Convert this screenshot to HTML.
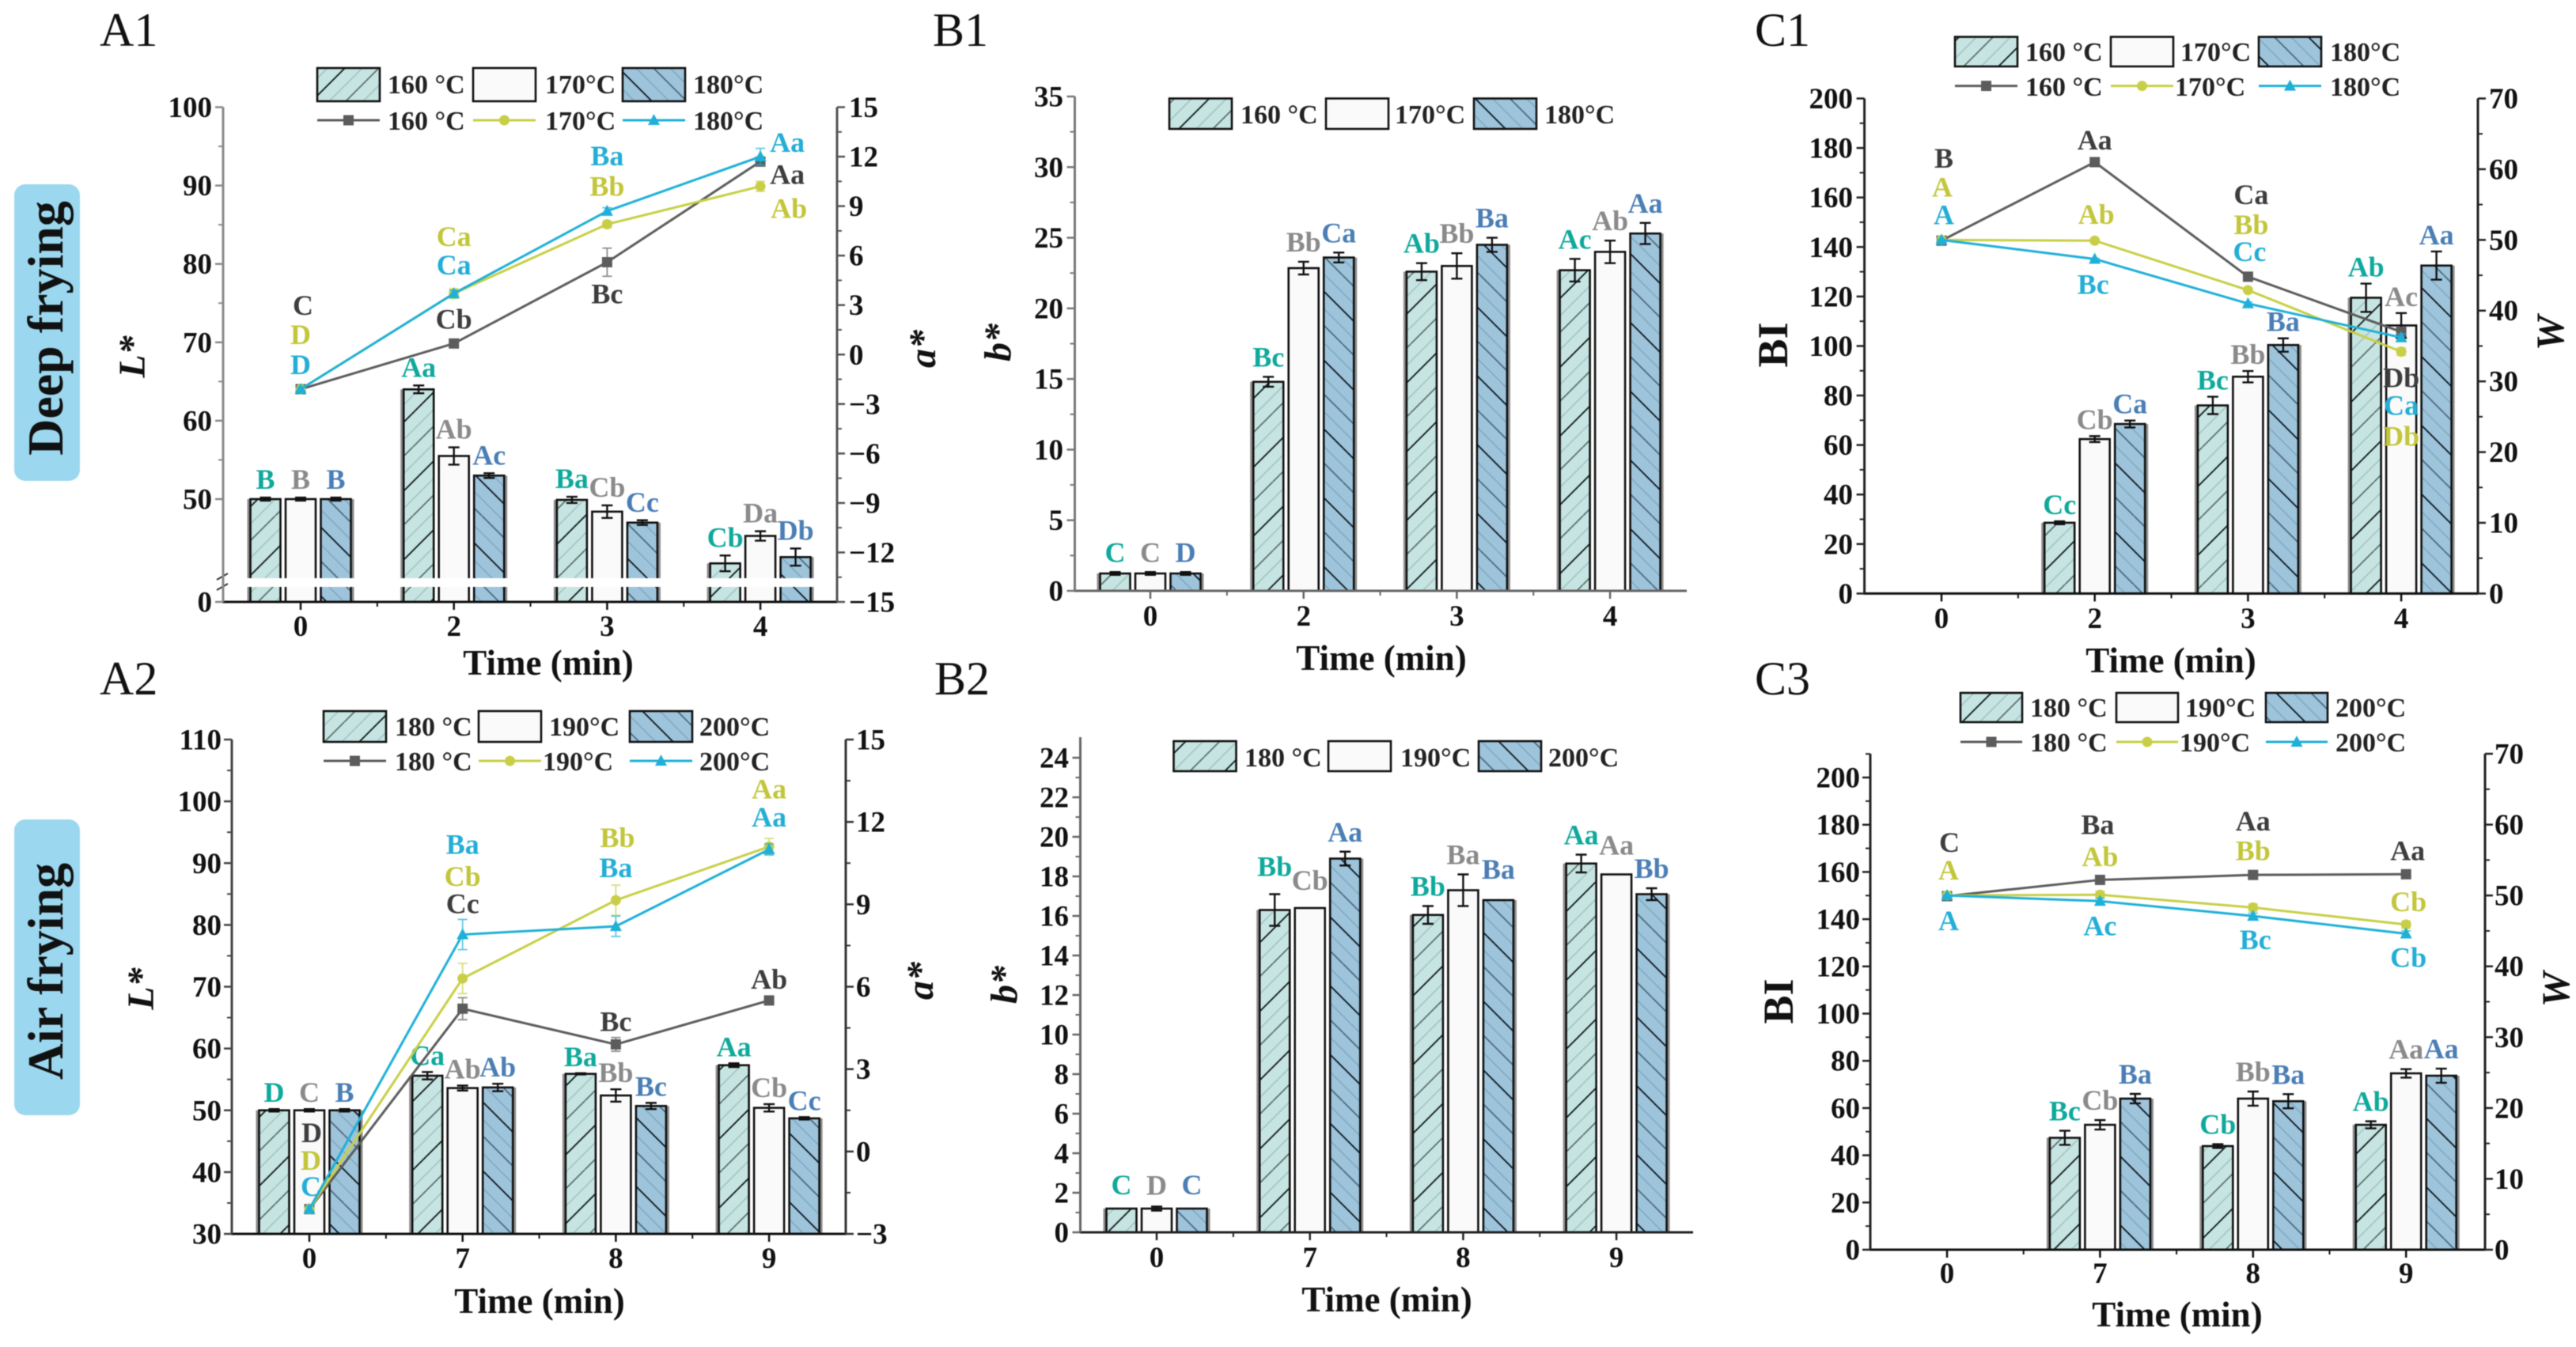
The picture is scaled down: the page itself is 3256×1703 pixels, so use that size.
<!DOCTYPE html>
<html>
<head>
<meta charset="utf-8">
<title>Colour parameters of deep and air frying</title>
<style>
html,body{margin:0;padding:0;background:#fff;}
svg{display:block;font-family:"Liberation Serif",serif;filter:blur(0.6px);}
</style>
</head>
<body>
<svg id="figure" xmlns="http://www.w3.org/2000/svg" width="3256" height="1703" viewBox="0 0 3256 1703">
<defs>
<pattern id="hatchTeal" width="87" height="87" patternUnits="userSpaceOnUse"><rect width="87" height="87" fill="#c6e4e1"/>
<path d="M0 22L22 0M22 87L87 22M0 65L65 0M65 87L87 65" stroke="#a5c4c2" stroke-width="1.6" fill="none"/>
<path d="M0 43L43 0M43 87L87 43" stroke="#5f7272" stroke-width="1.8" fill="none"/>
<path d="M0 87L87 0M-5 5L5 -5M82 92L92 82" stroke="#1c2626" stroke-width="1.9" fill="none"/></pattern>
<pattern id="hatchBlue" width="87" height="87" patternUnits="userSpaceOnUse"><rect width="87" height="87" fill="#9dc4db"/>
<path d="M0 22L65 87M65 0L87 22M0 65L22 87M22 0L87 65" stroke="#84a9c0" stroke-width="1.6" fill="none"/>
<path d="M0 43L44 87M44 0L87 43" stroke="#4f6a7c" stroke-width="1.8" fill="none"/>
<path d="M0 0L87 87M-5 82L5 92M82 -5L92 5" stroke="#16222b" stroke-width="1.9" fill="none"/></pattern>
</defs>
<rect width="3256" height="1703" fill="#fff"/>
<rect x="18" y="233" width="83" height="375" rx="14" fill="#9bd8ef"/>
<text transform="translate(79 415) rotate(-90)" text-anchor="middle" font-size="64" font-weight="bold" fill="#111">Deep frying</text>
<rect x="18" y="1036" width="83" height="374" rx="14" fill="#9bd8ef"/>
<text transform="translate(79 1228) rotate(-90)" text-anchor="middle" font-size="64" font-weight="bold" fill="#111">Air frying</text>
<text x="126" y="58" font-size="60" fill="#111">A1</text>
<text x="126" y="878" font-size="60" fill="#111">A2</text>
<text x="1179" y="58" font-size="60" fill="#111">B1</text>
<text x="1181" y="878" font-size="60" fill="#111">B2</text>
<text x="2218" y="58" font-size="60" fill="#111">C1</text>
<text x="2218" y="878" font-size="60" fill="#111">C3</text>
</svg>
<script>
/* ---------- shared categories and legend text ---------- */
const deepCategories = ['0','2','3','4'];
const airCategories = ['0','7','8','9'];
const deepBarLegend = ['160 °C','170°C','180°C'];
const airBarLegend = ['180 °C','190°C','200°C'];

/* ---------- A1 data ---------- */
const a1LeftTicks = [0,50,60,70,80,90,100];
const a1LeftMinor = [55,65,75,85,95];
const a1RightTicks = [-15,-12,-9,-6,-3,0,3,6,9,12,15];
const a1RightMinor = [-13.5,-10.5,-7.5,-4.5,-1.5,1.5,4.5,7.5,10.5,13.5];
const a1Bar1 = [50,64,49.9,41.8];
const a1Bar2 = [50,55.5,48.4,45.3];
const a1Bar3 = [50,53,47,42.6];
const a1BarErr1 = [0.2,0.5,0.4,1];
const a1BarErr2 = [0.2,1.1,0.8,0.6];
const a1BarErr3 = [0.2,0.3,0.3,1.1];
const a1BarLetters1 = ['B','Aa','Ba','Cb'];
const a1BarLetters2 = ['B','Ab','Cb','Da'];
const a1BarLetters3 = ['B','Ac','Cc','Db'];
const a1Line1 = [-2.1,0.67,5.6,11.7];
const a1Line2 = [-2.1,3.7,7.9,10.2];
const a1Line3 = [-2.1,3.7,8.7,12.0];
const a1LineErr1 = [0.1,0.1,0.85,0.1];
const a1LineErr2 = [0.1,0.3,0.2,0.3];
const a1LineErr3 = [0.1,0.2,0.2,0.5];
const a1LineLetters1 = ['C','Cb','Bc','Aa'];
const a1LineLetters2 = ['D','Ca','Bb','Ab'];
const a1LineLetters3 = ['D','Ca','Ba','Aa'];

/* ---------- A2 data ---------- */
const a2LeftTicks = [30,40,50,60,70,80,90,100,110];
const a2LeftMinor = [35,45,55,65,75,85,95,105];
const a2RightTicks = [-3,0,3,6,9,12,15];
const a2RightMinor = [-1.5,1.5,4.5,7.5,10.5,13.5];
const a2Bar1 = [50,55.6,55.9,57.3];
const a2Bar2 = [50,53.6,52.4,50.4];
const a2Bar3 = [50,53.7,50.7,48.7];
const a2BarErr1 = [0.2,0.6,0.1,0.3];
const a2BarErr2 = [0.2,0.4,1,0.6];
const a2BarErr3 = [0.2,0.6,0.5,0.2];
const a2BarLetters1 = ['D','Ca','Ba','Aa'];
const a2BarLetters2 = ['C','Ab','Bb','Cb'];
const a2BarLetters3 = ['B','Ab','Bc','Cc'];
const a2Line1 = [-2.1,5.2,3.9,5.5];
const a2Line2 = [-2.1,6.3,9.15,11.1];
const a2Line3 = [-2.1,7.9,8.2,11.0];
const a2LineErr1 = [0.1,0.4,0.25,0.1];
const a2LineErr2 = [0.1,0.55,0.55,0.3];
const a2LineErr3 = [0.1,0.55,0.37,0.2];
const a2LineLetters1 = ['D','Cc','Bc','Ab'];
const a2LineLetters2 = ['D','Cb','Bb','Aa'];
const a2LineLetters3 = ['C','Ba','Ba','Aa'];

/* ---------- B1 data ---------- */
const b1LeftTicks = [0,5,10,15,20,25,30,35];
const b1LeftMinor = [2.5,7.5,12.5,17.5,22.5,27.5,32.5];
const b1Bar1 = [1.23,14.8,22.6,22.7];
const b1Bar2 = [1.23,22.85,23.0,24.0];
const b1Bar3 = [1.23,23.6,24.5,25.3];
const b1BarErr1 = [0.1,0.35,0.6,0.8];
const b1BarErr2 = [0.1,0.45,0.9,0.8];
const b1BarErr3 = [0.1,0.35,0.5,0.75];
const b1BarLetters1 = ['C','Bc','Ab','Ac'];
const b1BarLetters2 = ['C','Bb','Bb','Ab'];
const b1BarLetters3 = ['D','Ca','Ba','Aa'];

/* ---------- B2 data ---------- */
const b2LeftTicks = [0,2,4,6,8,10,12,14,16,18,20,22,24];
const b2LeftMinor = [1,3,5,7,9,11,13,15,17,19,21,23];
const b2Bar1 = [1.2,16.3,16.05,18.65];
const b2Bar2 = [1.2,16.4,17.3,18.1];
const b2Bar3 = [1.2,18.9,16.8,17.1];
const b2BarErr1 = [0,0.8,0.45,0.45];
const b2BarErr2 = [0.1,0,0.8,0];
const b2BarErr3 = [0,0.35,0,0.3];
const b2BarLetters1 = ['C','Bb','Bb','Aa'];
const b2BarLetters2 = ['D','Cb','Ba','Aa'];
const b2BarLetters3 = ['C','Aa','Ba','Bb'];

/* ---------- C1 data ---------- */
const c1LeftTicks = [0,20,40,60,80,100,120,140,160,180,200];
const c1LeftMinor = [10,30,50,70,90,110,130,150,170,190];
const c1RightTicks = [0,10,20,30,40,50,60,70];
const c1RightMinor = [5,15,25,35,45,55,65];
const c1Bar1 = [0,28.6,76,119.5];
const c1Bar2 = [0,62.4,87.6,108.3];
const c1Bar3 = [0,68.5,100.4,132.5];
const c1BarErr1 = [0,0.6,3.5,5.7];
const c1BarErr2 = [0,1.2,2.3,5];
const c1BarErr3 = [0,1.4,2.7,5.7];
const c1BarLetters1 = ['','Cc','Bc','Ab'];
const c1BarLetters2 = ['','Cb','Bb','Ac'];
const c1BarLetters3 = ['','Ca','Ba','Aa'];
const c1Line1 = [49.9,61,44.8,37];
const c1Line2 = [50,49.9,42.9,34.2];
const c1Line3 = [50,47.3,41,36.2];
const c1LineErr1 = [0.1,0.1,0.2,0.3];
const c1LineErr2 = [0.1,0.1,0.2,0.5];
const c1LineErr3 = [0.1,0.1,0.2,0.5];
const c1LineLetters1 = ['B','Aa','Ca','Db'];
const c1LineLetters2 = ['A','Ab','Bb','Db'];
const c1LineLetters3 = ['A','Bc','Cc','Ca'];

/* ---------- C3 data ---------- */
const c3LeftTicks = [0,20,40,60,80,100,120,140,160,180,200];
const c3LeftMinor = [10,30,50,70,90,110,130,150,170,190,210];
const c3RightTicks = [0,10,20,30,40,50,60,70];
const c3RightMinor = [5,15,25,35,45,55,65];
const c3Bar1 = [0,47.4,43.9,52.9];
const c3Bar2 = [0,52.9,64,74.7];
const c3Bar3 = [0,64,62.9,73.7];
const c3BarErr1 = [0,3,0.8,1.5];
const c3BarErr2 = [0,2,3,1.8];
const c3BarErr3 = [0,2,3,3];
const c3BarLetters1 = ['','Bc','Cb','Ab'];
const c3BarLetters2 = ['','Cb','Bb','Aa'];
const c3BarLetters3 = ['','Ba','Ba','Aa'];
const c3Line1 = [49.9,52.2,52.9,53];
const c3Line2 = [50,50.1,48.3,45.9];
const c3Line3 = [50,49.2,47.1,44.6];
const c3LineErr1 = [0.1,0.1,0.3,0.3];
const c3LineErr2 = [0.1,0.5,0.5,0.5];
const c3LineErr3 = [0.1,0.4,0.4,0.4];
const c3LineLetters1 = ['C','Ba','Aa','Aa'];
const c3LineLetters2 = ['A','Ab','Bb','Cb'];
const c3LineLetters3 = ['A','Ac','Bc','Cb'];

/* ---------- panel layout (no data values) ---------- */
const panels = [
{id:'a1',cats:deepCategories,legendText:deepBarLegend,axisL:282,axisR:1058,baseY:761,topY:135.5,catX:380,catStep:193.7,
 left:{lo:50,hi:100,yLo:631,yHi:135.5},breakBelow:35,breakY:[731,742],leftTicks:a1LeftTicks,leftMinor:a1LeftMinor,
 right:{lo:-15,hi:15,yLo:761,yHi:135.5},rightTicks:a1RightTicks,rightMinor:a1RightMinor,
 bars:[a1Bar1,a1Bar2,a1Bar3],errs:[a1BarErr1,a1BarErr2,a1BarErr3],barLetters:[a1BarLetters1,a1BarLetters2,a1BarLetters3],
 lines:[a1Line1,a1Line2,a1Line3],lineErrs:[a1LineErr1,a1LineErr2,a1LineErr3],lineLetters:[a1LineLetters1,a1LineLetters2,a1LineLetters3],
 lineDy:[[-106,-31,40,16],[-69,-72,-48,28],[-31,-36,-70,-18]],lineDx:[[3,0,0,34],[0,0,0,36],[0,0,0,34]],
 barGap:11,leftColor:'#8a8a8a',baseColor:'#111',rightColor:'#555',leftLabelEdge:268,rightLabelX:1073,tickLabelY:804,
 timeX:693,timeY:853,leftTitle:{text:'L*',x:183,y:451,italic:true,size:48},rightTitle:{text:'a*',x:1182,y:441,italic:true,size:48},
 legend:{y:86,h:42,sw:[401,598,787],sww:79,tx:[490,689,876],textY:118,lineY:152,lineTextY:164,lineTx:[490,689,876]}},
{id:'a2',cats:airCategories,legendText:airBarLegend,axisL:293,axisR:1069,baseY:1560,topY:935,catX:391,catStep:193.7,
 left:{lo:30,hi:110,yLo:1560,yHi:935},leftTicks:a2LeftTicks,leftMinor:a2LeftMinor,
 right:{lo:-3,hi:15,yLo:1560,yHi:935},rightTicks:a2RightTicks,rightMinor:a2RightMinor,
 bars:[a2Bar1,a2Bar2,a2Bar3],errs:[a2BarErr1,a2BarErr2,a2BarErr3],barLetters:[a2BarLetters1,a2BarLetters2,a2BarLetters3],
 lines:[a2Line1,a2Line2,a2Line3],lineErrs:[a2LineErr1,a2LineErr2,a2LineErr3],lineLetters:[a2LineLetters1,a2LineLetters2,a2LineLetters3],
 lineDy:[[-97,-133,-29,-27],[-62,-129,-79,-73],[-29,-114,-74,-41]],lineDx:[[3,0,0,0],[2,0,2,0],[2,0,0,0]],
 barGap:9,leftColor:'#444',baseColor:'#111',rightColor:'#333',leftLabelEdge:280,rightLabelX:1082,tickLabelY:1603,
 timeX:682,timeY:1660,leftTitle:{text:'L*',x:194,y:1250,italic:true,size:48},rightTitle:{text:'a*',x:1179,y:1240,italic:true,size:48},
 legend:{y:899,h:39,sw:[409,605,796],sww:79,tx:[499,694,884],textY:930,lineY:962,lineTextY:974,lineTx:[499,686,884]}},
{id:'b1',cats:deepCategories,legendText:deepBarLegend,axisL:1358.5,axisR:2132,baseY:747,topY:122,catX:1454,catStep:193.7,
 left:{lo:0,hi:35,yLo:747,yHi:122},leftTicks:b1LeftTicks,leftMinor:b1LeftMinor,
 bars:[b1Bar1,b1Bar2,b1Bar3],errs:[b1BarErr1,b1BarErr2,b1BarErr3],barLetters:[b1BarLetters1,b1BarLetters2,b1BarLetters3],
 barGap:13,leftColor:'#777',baseColor:'#666',leftLabelEdge:1344,tickLabelY:791,
 timeX:1746,timeY:847,leftTitle:{text:'b*',x:1277,y:433,italic:true,size:48},
 legend:{y:124.5,h:38.5,sw:[1478,1676,1863],sww:79,tx:[1568,1763,1952],textY:156}},
{id:'b2',cats:airCategories,legendText:airBarLegend,axisL:1365.5,axisR:2140,baseY:1558,topY:932,catX:1462,catStep:193.7,
 left:{lo:0,hi:24,yLo:1558,yHi:958},leftTicks:b2LeftTicks,leftMinor:b2LeftMinor,
 bars:[b2Bar1,b2Bar2,b2Bar3],errs:[b2BarErr1,b2BarErr2,b2BarErr3],barLetters:[b2BarLetters1,b2BarLetters2,b2BarLetters3],
 barExtra:[[5,10,0,0],[2,10,0,12],[5,0,14,0]],
 barGap:13,leftColor:'#666',baseColor:'#222',leftLabelEdge:1351,tickLabelY:1602,
 timeX:1753,timeY:1658,leftTitle:{text:'b*',x:1285,y:1245,italic:true,size:48},
 legend:{y:937,h:38,sw:[1483.5,1679,1869],sww:79,tx:[1573,1770,1957],textY:969}},
{id:'c1',cats:deepCategories,legendText:deepBarLegend,axisL:2356.6,axisR:3132,baseY:750.4,topY:124.5,catX:2454,catStep:193.7,
 left:{lo:0,hi:200,yLo:750.4,yHi:124.5},leftTicks:c1LeftTicks,leftMinor:c1LeftMinor,
 right:{lo:0,hi:70,yLo:750.4,yHi:124.5},rightTicks:c1RightTicks,rightMinor:c1RightMinor,
 bars:[c1Bar1,c1Bar2,c1Bar3],errs:[c1BarErr1,c1BarErr2,c1BarErr3],barLetters:[c1BarLetters1,c1BarLetters2,c1BarLetters3],
 lines:[c1Line1,c1Line2,c1Line3],lineErrs:[c1LineErr1,c1LineErr2,c1LineErr3],lineLetters:[c1LineLetters1,c1LineLetters2,c1LineLetters3],
 lineDy:[[-104,-28,-104,58],[-67,-33,-83,107],[-32,32,-66,86]],lineDx:[[3,0,4,0],[1,2,4,0],[3,-2,2,0]],
 barGap:9,leftColor:'#222',baseColor:'#111',rightColor:'#222',leftLabelEdge:2342,rightLabelX:3146,tickLabelY:794,
 timeX:2744,timeY:850,leftTitle:{text:'BI',x:2259,y:436,italic:false,size:54},rightTitle:{text:'W',x:3240,y:421,italic:true,size:50},
 legend:{y:46.6,h:37.4,sw:[2471,2668,2855],sww:79,tx:[2560,2756,2945],textY:77,lineY:108.6,lineTextY:121,lineTx:[2560,2749,2945]}},
{id:'c3',cats:airCategories,legendText:airBarLegend,axisL:2364,axisR:3141,baseY:1580,topY:953,catX:2461,catStep:193.4,
 left:{lo:0,hi:200,yLo:1580,yHi:983},leftTicks:c3LeftTicks,leftMinor:c3LeftMinor,
 right:{lo:0,hi:70,yLo:1580,yHi:953},rightTicks:c3RightTicks,rightMinor:c3RightMinor,
 bars:[c3Bar1,c3Bar2,c3Bar3],errs:[c3BarErr1,c3BarErr2,c3BarErr3],barLetters:[c3BarLetters1,c3BarLetters2,c3BarLetters3],
 lines:[c3Line1,c3Line2,c3Line3],lineErrs:[c3LineErr1,c3LineErr2,c3LineErr3],lineLetters:[c3LineLetters1,c3LineLetters2,c3LineLetters3],
 lineDy:[[-68,-70,-68,-30],[-32,-48,-72,-29],[32,31,30,30]],lineDx:[[3,-3,0,2],[2,0,0,3],[2,0,3,3]],
 barGap:13,leftColor:'#222',baseColor:'#111',rightColor:'#222',leftLabelEdge:2351,rightLabelX:3153,tickLabelY:1622,
 timeX:2752,timeY:1677,leftTitle:{text:'BI',x:2266,y:1266,italic:false,size:54},rightTitle:{text:'W',x:3247,y:1251,italic:true,size:50},
 legend:{y:876,h:37,sw:[2478,2675,2864],sww:78,tx:[2566,2762,2952],textY:906,lineY:938,lineTextY:950,lineTx:[2566,2755,2952]}}
];

const barFills = ['url(#hatchTeal)','#fafafa','url(#hatchBlue)'];
const barLetterColors = ['#0fa99c','#8a8a8a','#4a7eb5'];
const lineColors = ['#5c5c5c','#c8cf46','#1fb0d8'];
const lineLetterColors = ['#3d3d3d','#c3c63a','#23aed6'];
const barOffset = 44.5;
const barWidth = 38;
const tickFont = 37;

const svg = document.getElementById('figure');
const NS = 'http://www.w3.org/2000/svg';

function mk(parent, tag, attrs, text) {
  const el = document.createElementNS(NS, tag);
  for (const k in attrs) el.setAttribute(k, attrs[k]);
  if (text !== undefined) el.textContent = text;
  parent.appendChild(el);
  return el;
}
function linear(ax, v) {
  return ax.yLo + (v - ax.lo) * (ax.yHi - ax.yLo) / (ax.hi - ax.lo);
}
function yLeft(p, v) {
  if (p.breakBelow !== undefined && v < p.breakBelow) return p.baseY;
  return linear(p.left, v);
}
function yRight(p, v) {
  return linear(p.right, v);
}
function xCat(p, i) {
  return p.catX + i * p.catStep;
}
function fmt(v) {
  return v < 0 ? '\u2212' + Math.abs(v) : String(v);
}

function drawMarker(g, kind, x, y, color) {
  if (kind === 0) {
    const m = mk(g, 'rect', {x: x - 6.5, y: y - 6.5, width: 13, height: 13, fill: color});
    
    
  } else if (kind === 1) {
    const m = mk(g, 'circle', {cx: x, cy: y, r: 6.5, fill: color});
    
    
  } else {
    const m = mk(g, 'path', {d: 'M' + x + ' ' + (y - 8) + 'L' + (x + 7.5) + ' ' + (y + 6) + 'L' + (x - 7.5) + ' ' + (y + 6) + 'Z', fill: color});
    
    
  }
}

function drawAxes(p, g) {
  const base = mk(g, 'line', {x1: p.axisL - 1, x2: p.axisR, y1: p.baseY, y2: p.baseY, stroke: p.baseColor, 'stroke-width': 3});
  
  
  const la = mk(g, 'line', {x1: p.axisL, x2: p.axisL, y1: p.baseY, y2: p.topY, stroke: p.leftColor, 'stroke-width': 3});
  
  
  p.leftTicks.forEach(v => {
    const y = yLeft(p, v);
    const t = mk(g, 'line', {x1: p.axisL - 10, x2: p.axisL, y1: y, y2: y, stroke: p.leftColor, 'stroke-width': 2.5});
    
    
    const l = mk(g, 'text', {x: p.leftLabelEdge, y: y + 12.5, 'text-anchor': 'end', 'font-size': tickFont, 'font-weight': 'bold', fill: '#111'}, fmt(v));
    
    
  });
  p.leftMinor.forEach(v => {
    const y = yLeft(p, v);
    const t = mk(g, 'line', {x1: p.axisL - 6, x2: p.axisL, y1: y, y2: y, stroke: p.leftColor, 'stroke-width': 2});
    
    
  });
  if (p.right) {
    const ra = mk(g, 'line', {x1: p.axisR, x2: p.axisR, y1: p.baseY, y2: p.topY, stroke: p.rightColor, 'stroke-width': 3});
    
    
    p.rightTicks.forEach(v => {
      const y = yRight(p, v);
      const t = mk(g, 'line', {x1: p.axisR, x2: p.axisR + 10, y1: y, y2: y, stroke: p.rightColor, 'stroke-width': 2.5});
      
      
      const l = mk(g, 'text', {x: p.rightLabelX, y: y + 12.5, 'font-size': tickFont, 'font-weight': 'bold', fill: '#111'}, fmt(v));
      
      
    });
    p.rightMinor.forEach(v => {
      const y = yRight(p, v);
      const t = mk(g, 'line', {x1: p.axisR, x2: p.axisR + 6, y1: y, y2: y, stroke: p.rightColor, 'stroke-width': 2});
      
      
    });
  }
  p.cats.forEach((c, i) => {
    const x = xCat(p, i);
    const t = mk(g, 'line', {x1: x, x2: x, y1: p.baseY, y2: p.baseY + 10, stroke: p.baseColor, 'stroke-width': 2.5});
    
    
    const l = mk(g, 'text', {x: x, y: p.tickLabelY, 'text-anchor': 'middle', 'font-size': tickFont, 'font-weight': 'bold', fill: '#111'}, c);
    
    
    if (i < p.cats.length - 1) {
      const mx = x + p.catStep / 2;
      const m = mk(g, 'line', {x1: mx, x2: mx, y1: p.baseY, y2: p.baseY + 6, stroke: p.baseColor, 'stroke-width': 2});
      
      
    }
  });
  const time = mk(g, 'text', {x: p.timeX, y: p.timeY, 'text-anchor': 'middle', 'font-size': 45, 'font-weight': 'bold', fill: '#111'}, 'Time (min)');
  
  
  const lt = p.leftTitle;
  const ltEl = mk(g, 'text', {transform: 'translate(' + lt.x + ' ' + lt.y + ') rotate(-90)', 'text-anchor': 'middle', 'font-size': lt.size, 'font-weight': 'bold', 'font-style': lt.italic ? 'italic' : 'normal', fill: '#111'}, lt.text);
  
  
  if (p.rightTitle) {
    const rt = p.rightTitle;
    const rtEl = mk(g, 'text', {transform: 'translate(' + rt.x + ' ' + rt.y + ') rotate(-90)', 'text-anchor': 'middle', 'font-size': rt.size, 'font-weight': 'bold', 'font-style': rt.italic ? 'italic' : 'normal', fill: '#111'}, rt.text);
    
    
  }
}

function drawBars(p, g) {
  p.bars.forEach((series, s) => {
    series.forEach((v, i) => {
      if (!v) return;
      const cx = xCat(p, i) + (s - 1) * barOffset;
      const y = yLeft(p, v);
      if (s !== 1) {
        const gx = s === 0 ? cx - barWidth / 2 - 4 : cx + barWidth / 2;
        const gh = mk(g, 'rect', {x: gx, y: y, width: 4, height: p.baseY - y, fill: '#8d8d8d'});
        
        
      }
      const r = mk(g, 'rect', {x: cx - barWidth / 2, y: y, width: barWidth, height: p.baseY - y, fill: barFills[s], stroke: '#111', 'stroke-width': 2.6});
      
      
      const e = p.errs[s][i];
      const yt = yLeft(p, v + e), yb = yLeft(p, v - e);
      if (e > 0) {
        const eb = mk(g, 'path', {d: 'M' + cx + ' ' + yt + 'V' + yb + 'M' + (cx - 7) + ' ' + yt + 'H' + (cx + 7) + 'M' + (cx - 7) + ' ' + yb + 'H' + (cx + 7), fill: 'none', stroke: '#111', 'stroke-width': 2.4});
        
        
      }
    });
  });
  if (p.breakY) {
    const gap = mk(g, 'rect', {x: p.axisL - 8, y: p.breakY[0], width: p.axisR - p.axisL, height: p.breakY[1] - p.breakY[0], fill: '#fff'});
    
    
    const sl = mk(g, 'path', {d: 'M' + (p.axisL - 8) + ' ' + (p.breakY[0] + 2) + 'L' + (p.axisL + 6) + ' ' + (p.breakY[0] - 6) + 'M' + (p.axisL - 8) + ' ' + (p.breakY[1] + 4) + 'L' + (p.axisL + 6) + ' ' + (p.breakY[1] - 4), fill: 'none', stroke: '#333', 'stroke-width': 2});
    
    
  }
}

function drawBarLetters(p, g) {
  p.barLetters.forEach((letters, s) => {
    letters.forEach((txt, i) => {
      if (!txt) return;
      const cx = xCat(p, i) + (s - 1) * barOffset;
      const top = yLeft(p, p.bars[s][i] + p.errs[s][i]);
      const extra = p.barExtra ? p.barExtra[s][i] : 0;
      const t = mk(g, 'text', {x: cx, y: top - p.barGap - extra, 'text-anchor': 'middle', 'font-size': 36, 'font-weight': 'bold', fill: barLetterColors[s]}, txt);
      
      
    });
  });
}

function drawLines(p, g) {
  if (!p.lines) return;
  p.lines.forEach((series, s) => {
    const d = series.map((v, i) => (i ? 'L' : 'M') + xCat(p, i) + ' ' + yRight(p, v)).join('');
    const path = mk(g, 'path', {d: d, fill: 'none', stroke: lineColors[s], 'stroke-width': 3});
    
    
    series.forEach((v, i) => {
      const x = xCat(p, i);
      const e = p.lineErrs[s][i];
      const yt = yRight(p, v + e), yb = yRight(p, v - e);
      const eb = mk(g, 'path', {d: 'M' + x + ' ' + yt + 'V' + yb + 'M' + (x - 6) + ' ' + yt + 'H' + (x + 6) + 'M' + (x - 6) + ' ' + yb + 'H' + (x + 6), fill: 'none', stroke: lineColors[s], 'stroke-width': 1.8, opacity: 0.7});
      
      
      drawMarker(g, s, x, yRight(p, v), lineColors[s]);
    });
  });
  p.lineLetters.forEach((letters, s) => {
    letters.forEach((txt, i) => {
      const x = xCat(p, i) + p.lineDx[s][i];
      const y = yRight(p, p.lines[s][i]) + p.lineDy[s][i] + 12;
      const t = mk(g, 'text', {x: x, y: y, 'text-anchor': 'middle', 'font-size': 36, 'font-weight': 'bold', fill: lineLetterColors[s]}, txt);
      
      
    });
  });
}

function drawLegend(p, g) {
  const L = p.legend;
  L.sw.forEach((x, s) => {
    const r = mk(g, 'rect', {x: x, y: L.y, width: L.sww, height: L.h, fill: barFills[s], stroke: '#111', 'stroke-width': 2.6});
    
    
    const t = mk(g, 'text', {x: L.tx[s], y: L.textY, 'font-size': 34, 'font-weight': 'bold', fill: '#222'}, p.legendText[s]);
    
    
    if (L.lineY !== undefined) {
      const ln = mk(g, 'line', {x1: x, x2: x + L.sww, y1: L.lineY, y2: L.lineY, stroke: lineColors[s], 'stroke-width': 3});
      
      
      drawMarker(g, s, x + L.sww / 2, L.lineY, lineColors[s]);
      const t2 = mk(g, 'text', {x: L.lineTx[s], y: L.lineTextY, 'font-size': 34, 'font-weight': 'bold', fill: '#222'}, p.legendText[s]);
      
      
    }
  });
}

panels.forEach(p => {
  const g = mk(svg, 'g', {});
  
  
  drawBars(p, g);
  drawAxes(p, g);
  drawBarLetters(p, g);
  drawLines(p, g);
  drawLegend(p, g);
});
</script>
</body>
</html>
